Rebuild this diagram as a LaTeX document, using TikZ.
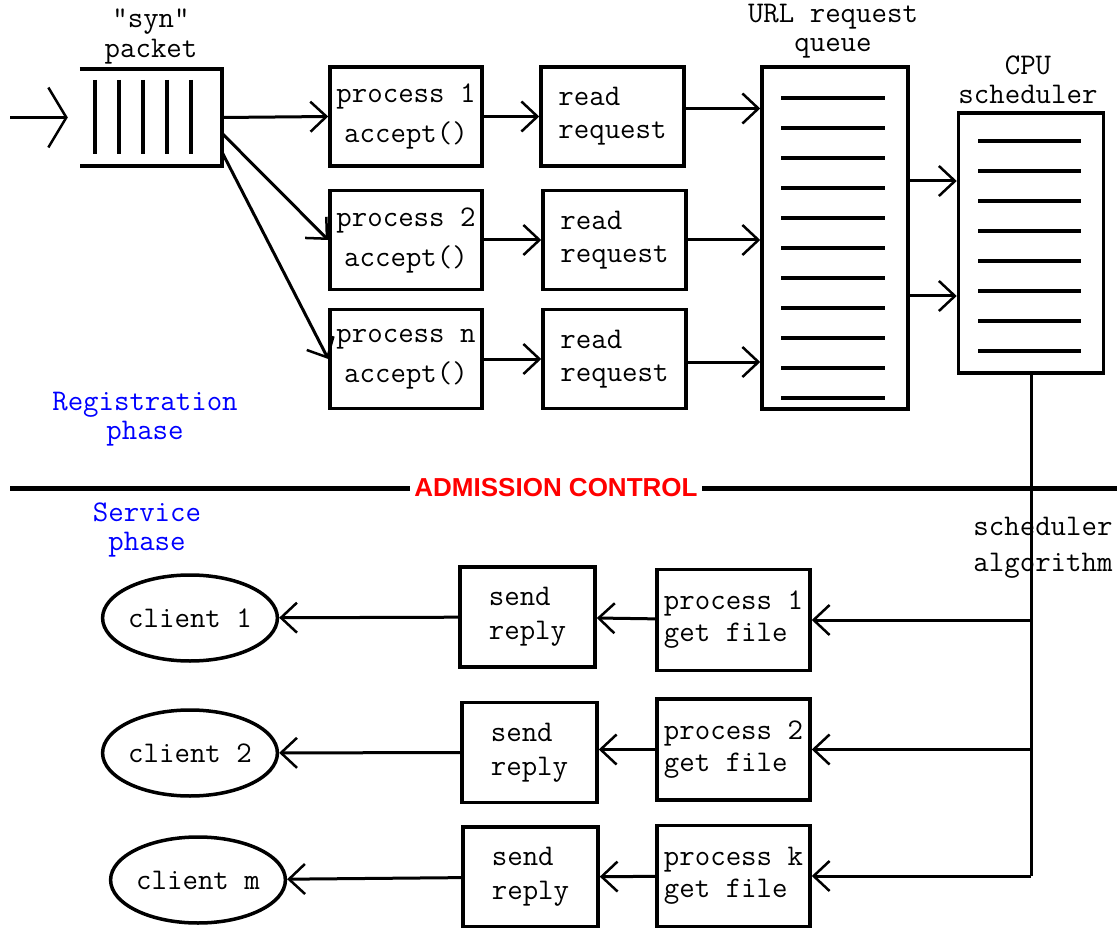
\documentclass[tikz,border=0pt]{standalone}
\usepackage{fontspec}
\usetikzlibrary{arrows.meta, shapes.geometric}
\newfontfamily\headfont{Liberation Sans}
\definecolor{phaseBlue}{rgb}{0.0, 0.0, 1.0}
\definecolor{ctrlRed}{rgb}{1.0, 0.0, 0.0}

\begin{document}
\begin{tikzpicture}[x=1pt, y=-1pt,
	every node/.style={font=\ttfamily\fontsize{30}{30}\selectfont},
	procBox/.style={draw, line width=3.5pt, inner sep=0pt, minimum width=152pt, minimum height=99pt, align=center},
	readBox/.style={draw, line width=3.5pt, inner sep=0pt, minimum width=143pt, minimum height=99pt, align=left},
	getBox/.style={draw, line width=3.5pt, inner sep=0pt, minimum width=153pt, minimum height=101pt, align=left},
	sendBox/.style={draw, line width=3.5pt, inner sep=0pt, minimum width=135pt, minimum height=100pt, align=left},
	client/.style={ellipse, draw, line width=3.5pt, inner sep=0pt, minimum width=164pt, minimum height=86pt},
	flow/.style={line width=3pt, -{Straight Barb[length=16pt, width=30pt, line width=2.5pt]}},
	phase/.style={align=center, text=phaseBlue}]
	\useasboundingbox (0,0) rectangle (1117,928);

	% Registration phase
	\node[align=center] (synLabel) at (151,37) {"syn"\\packet};
	\node[minimum width=142pt, minimum height=97pt, inner sep=0pt] (syn) at (151,117.5) {};
	\draw[line width=3.5pt] (syn.north west) -- (syn.north east) -- (syn.south east) -- (syn.south west);
	\foreach \x in {95,119,...,191}
	\draw[line width=3.5pt] (\x,80) -- (\x,154);
	\coordinate (entry) at (10,117.5);
	\draw[line width=3pt, -{Straight Barb[length=18pt, width=60pt, line width=2.5pt]}] (entry) -- ([xshift=-12pt]syn.west);

	\node[procBox] (proc1) at (406,116.5) {process 1\\[10pt]accept()};
	\node[procBox] (proc2) at (406,240) {process 2\\[10pt]accept()};
	\node[procBox] (procn) at (406,359) {process n\\[10pt]accept()};

	\node[readBox] (read1) at (612.5,116.5) {read\\[3pt]request};
	\node[readBox] (read2) at (614.5,240) {read\\[3pt]request};
	\node[readBox] (read3) at (614.5,359) {read\\[3pt]request};

	\node[draw, line width=3.5pt, inner sep=0pt, minimum width=146pt, minimum height=342pt] (queue) at (835,238) {};
	\node[align=center] (queueLabel) at (833,31) {URL request\\[-1pt]queue};
	\foreach \y in {98,128,...,398}
	\draw[line width=3.5pt] (781,\y) -- (885,\y);

	\node[draw, line width=3.5pt, inner sep=0pt, minimum width=145pt, minimum height=260pt] (sched) at (1031,243) {};
	\node[align=center] (schedLabel) at (1028,80) {CPU\\[-1pt]scheduler};
	\foreach \y in {141,171,...,351}
	\draw[line width=3.5pt] (978,\y) -- (1081,\y);

	% Draw mappings
	\draw[flow] (syn.east) -- (proc1.west);
	\draw[flow] ([yshift=-16pt]syn.east) -- (proc2.west);
	\draw[flow] ([yshift=-35pt]syn.east) -- (procn.west);
	\draw[flow] (proc1) -- (read1);
	\draw[flow] (proc2) -- (read2);
	\draw[flow] (procn) -- (read3);
	\coordinate (r1out) at ([yshift=8pt]read1.east);
	\coordinate (r3out) at ([yshift=-3pt]read3.east);
	\draw[flow] (r1out) -- (r1out -| queue.west);
	\draw[flow] (read2.east) -- (read2.east -| queue.west);
	\draw[flow] (r3out) -- (r3out -| queue.west);
	\coordinate (q1out) at ([yshift=57pt]queue.east);
	\coordinate (q2out) at ([yshift=-58pt]queue.east);
	\draw[flow] (q1out) -- (q1out -| sched.west);
	\draw[flow] (q2out) -- (q2out -| sched.west);

	\node[phase] (regLabel) at (145,419) {Registration\\[-1pt]phase};

	% Admission control divider
	\draw[line width=5pt] (10,488) -- (1117,488);
	\node[fill=white, inner sep=4pt, text=ctrlRed, font=\headfont\bfseries\fontsize{26}{30}\selectfont] (admit) at (556,488) {ADMISSION CONTROL};

	% Service phase
	\node[phase] (servLabel) at (147,530) {Service\\[-1pt]phase};
	\node[align=center] (algLabel) at (1043,548) {scheduler\\[6pt]algorithm};

	\node[getBox] (get1) at (733.5,620) {process 1\\[2pt]get file};
	\node[getBox] (get2) at (733.5,749.5) {process 2\\[2pt]get file};
	\node[getBox] (getk) at (733.5,876) {process k\\[2pt]get file};

	\node[sendBox] (send1) at (527.5,617) {send\\[4pt]reply};
	\node[sendBox] (send2) at (529.5,752.5) {send\\[4pt]reply};
	\node[sendBox] (send3) at (530.5,877) {send\\[4pt]reply};

	\node[client] (client1) at (190,618) {client 1};
	\node[client] (client2) at (190,753) {client 2};
	\node[client] (clientm) at (198,880) {client m};

	% Scheduler feeds the workers
	\coordinate (busEnd) at (1031,876);
	\draw[line width=3pt] (sched.south) -- (busEnd);
	\draw[flow] (busEnd |- get1) -- (get1.east);
	\draw[flow] (busEnd |- get2) -- (get2.east);
	\draw[flow] (busEnd) -- (getk.east);

	\draw[flow] (get1) -- (send1);
	\draw[flow] (get2.west) -- (get2.west -| send2.east);
	\draw[flow] (getk) -- (send3);
	\draw[flow] (send1) -- (client1);
	\draw[flow] (send2) -- (client2);
	\draw[flow] (send3) -- (clientm);
\end{tikzpicture}
\end{document}
